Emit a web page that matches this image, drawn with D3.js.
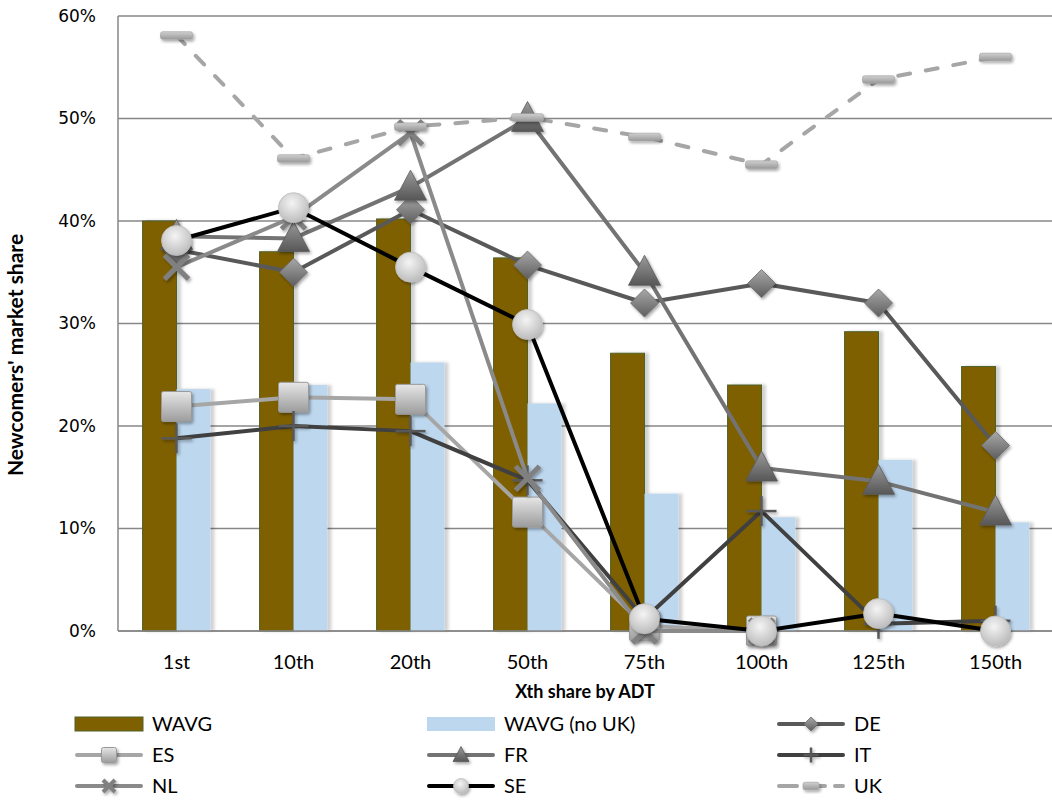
<!DOCTYPE html>
<html>
<head>
<meta charset="utf-8">
<script src="https://cdn.jsdelivr.net/npm/d3@7"></script>
<style>
  html, body { margin: 0; padding: 0; background: #fff; }
  svg { display: block; }
</style>
</head>
<body>
<svg id="chart" width="1052" height="800"></svg>
<script>
// ---------- DATA ----------
const categories = ['1st', '10th', '20th', '50th', '75th', '100th', '125th', '150th'];
const wavg       = [40.0, 37.0, 40.2, 36.4, 27.1, 24.0, 29.2, 25.8];
const wavgNoUK   = [23.6, 24.0, 26.2, 22.2, 13.4, 11.1, 16.7, 10.6];
const de = [37.2, 35.0, 41.1, 35.7, 32.0, 33.9, 32.0, 18.1];
const es = [21.9, 22.8, 22.6, 11.6, 0.5, 0.0, null, null];
const fr = [38.5, 38.3, 43.3, 50.0, 35.0, 15.9, 14.6, 11.6];
const it = [18.8, 20.0, 19.5, 14.7, 1.2, 11.7, 0.7, 1.0];
const nl = [35.5, 40.4, 48.6, 14.9, 0.0, 0.0, null, null];
const se = [38.1, 41.3, 35.5, 29.9, 1.2, 0.0, 1.7, 0.0];
const uk = [58.1, 46.1, 49.2, 50.1, 48.2, 45.5, 53.8, 56.0];
const yTicks = [0, 10, 20, 30, 40, 50, 60];

const barSeries = [
  {name: 'WAVG', values: wavg, fill: '#7f6000', stroke: '#4f6228'},
  {name: 'WAVG (no UK)', values: wavgNoUK, fill: '#bdd7ee', stroke: 'none'}
];
const lineSeries = [
  {name: 'DE', values: de, color: '#595959', marker: 'diamond'},
  {name: 'ES', values: es, color: '#a6a6a6', marker: 'square'},
  {name: 'FR', values: fr, color: '#737373', marker: 'triangle'},
  {name: 'IT', values: it, color: '#404040', marker: 'plus'},
  {name: 'NL', values: nl, color: '#8a8a8a', marker: 'x'},
  {name: 'SE', values: se, color: '#000000', marker: 'circle'},
  {name: 'UK', values: uk, color: '#a6a6a6', marker: 'dash', dashed: true}
];

// ---------- LAYOUT ----------
const svg = d3.select('#chart');
const plot = {left: 118, right: 1054, top: 16, bottom: 631};

const x = d3.scaleBand().domain(categories).range([plot.left, plot.right])
  .paddingInner(0.42).paddingOuter(0.21);
const xSub = d3.scaleBand().domain(barSeries.map(s => s.name)).range([0, x.bandwidth()]);
const y = d3.scaleLinear().domain([0, 60]).range([plot.bottom, plot.top]);
const cx = c => x(c) + x.bandwidth() / 2;

// ---------- DEFS ----------
const defs = svg.append('defs');
const f1 = defs.append('filter').attr('id', 'barShadow').attr('x', '-20%').attr('y', '-5%').attr('width', '150%').attr('height', '110%');
f1.append('feDropShadow').attr('dx', 4).attr('dy', 0).attr('stdDeviation', 1.5)
  .attr('flood-color', '#000').attr('flood-opacity', 0.18);
const f2 = defs.append('filter').attr('id', 'mkShadow').attr('x', '-50%').attr('y', '-50%').attr('width', '200%').attr('height', '200%');
f2.append('feDropShadow').attr('dx', 1.5).attr('dy', 2).attr('stdDeviation', 1.5)
  .attr('flood-color', '#000').attr('flood-opacity', 0.35);

function linGrad(id, c1, c2) {
  const g = defs.append('linearGradient').attr('id', id)
    .attr('x1', 0).attr('y1', 0).attr('x2', 0).attr('y2', 1);
  g.append('stop').attr('offset', '0%').attr('stop-color', c1);
  g.append('stop').attr('offset', '100%').attr('stop-color', c2);
}
linGrad('gDiamond', '#a8a8a8', '#5e5e5e');
linGrad('gSquare', '#e6e6e6', '#9c9c9c');
linGrad('gTri', '#9a9a9a', '#575757');
linGrad('gDash', '#cfcfcf', '#9a9a9a');
const rg = defs.append('radialGradient').attr('id', 'gCircle')
  .attr('cx', '45%').attr('cy', '35%').attr('r', '65%');
rg.append('stop').attr('offset', '0%').attr('stop-color', '#f4f4f4');
rg.append('stop').attr('offset', '100%').attr('stop-color', '#bcbcbc');

// ---------- GRID ----------
svg.append('g').selectAll('line').data(yTicks).join('line')
  .attr('x1', plot.left).attr('x2', 1052)
  .attr('y1', d => y(d)).attr('y2', d => y(d))
  .attr('stroke', '#878787').attr('stroke-width', 1.5);

svg.append('line').attr('x1', plot.left).attr('x2', plot.left)
  .attr('y1', plot.top).attr('y2', plot.bottom)
  .attr('stroke', '#878787').attr('stroke-width', 1.5);

// Y axis labels
const yAxis = d3.axisLeft(y).tickValues(yTicks).tickFormat(d => d + '%').tickSize(0).tickPadding(0);
const yg = svg.append('g').attr('transform', `translate(96,0)`).call(yAxis);
yg.select('.domain').remove();
yg.selectAll('text').attr('font-family', 'DejaVu Sans').attr('font-size', 17).attr('fill', '#000');

// X axis labels
const xAxis = d3.axisBottom(x).tickSize(0).tickPadding(0);
const xg = svg.append('g').attr('transform', `translate(0,655)`).call(xAxis);
xg.select('.domain').remove();
xg.selectAll('text').attr('font-family', 'Lato').attr('font-size', 20).attr('fill', '#000');

// Axis titles
svg.append('text').attr('x', 585).attr('y', 698).attr('text-anchor', 'middle')
  .attr('font-family', 'Lato').attr('font-weight', 'bold').attr('font-size', 18)
  .text('Xth share by ADT');
svg.append('text').attr('transform', 'translate(23,355) rotate(-90)').attr('text-anchor', 'middle')
  .attr('font-family', 'Lato').attr('font-weight', 'bold').attr('font-size', 21)
  .text("Newcomers' market share");

// ---------- BARS ----------
barSeries.forEach(s => {
  svg.append('g').attr('filter', 'url(#barShadow)').selectAll('rect')
    .data(categories.map((c, i) => ({c, v: s.values[i]})))
    .join('rect')
    .attr('x', d => x(d.c) + xSub(s.name))
    .attr('width', xSub.bandwidth())
    .attr('y', d => y(d.v))
    .attr('height', d => y(0) - y(d.v))
    .attr('fill', s.fill)
    .attr('stroke', s.stroke)
    .attr('stroke-width', s.stroke === 'none' ? 0 : 1);
});

// bottom axis line on top of bars
svg.append('line').attr('x1', plot.left).attr('x2', 1052)
  .attr('y1', plot.bottom).attr('y2', plot.bottom)
  .attr('stroke', '#878787').attr('stroke-width', 1.5);

// ---------- MARKERS ----------
function drawMarker(g, type, px, py, k, color) {
  const m = g.append('g').attr('transform', `translate(${px},${py})`).attr('filter', 'url(#mkShadow)');
  if (type === 'diamond') {
    const h = 14 * k;
    m.append('path').attr('d', `M0,${-h}L${h},0L0,${h}L${-h},0Z`)
      .attr('fill', 'url(#gDiamond)').attr('stroke', '#6a6a6a').attr('stroke-width', 0.8);
  } else if (type === 'square') {
    const h = 15 * k;
    m.append('rect').attr('x', -h).attr('y', -h).attr('width', 2 * h).attr('height', 2 * h)
      .attr('rx', 2).attr('fill', 'url(#gSquare)').attr('stroke', '#999').attr('stroke-width', 1);
  } else if (type === 'triangle') {
    const w = 16 * k, t = 17 * k, b = 13 * k;
    m.append('path').attr('d', `M0,${-t}L${w},${b}L${-w},${b}Z`)
      .attr('fill', 'url(#gTri)').attr('stroke', '#5a5a5a').attr('stroke-width', 0.8);
  } else if (type === 'plus') {
    const h = 15 * k;
    m.append('line').attr('x1', -h).attr('x2', h).attr('y1', 0).attr('y2', 0)
      .attr('stroke', '#595959').attr('stroke-width', 2.5);
    m.append('line').attr('x1', 0).attr('x2', 0).attr('y1', -h).attr('y2', h)
      .attr('stroke', '#595959').attr('stroke-width', 2.5);
  } else if (type === 'x') {
    const h = 12 * k;
    m.append('path').attr('d', `M${-h},${-h}L${h},${h}M${h},${-h}L${-h},${h}`)
      .attr('stroke', '#808080').attr('stroke-width', 5 * Math.max(k, 0.8)).attr('fill', 'none');
  } else if (type === 'circle') {
    m.append('circle').attr('r', 15 * k).attr('fill', 'url(#gCircle)')
      .attr('stroke', '#bdbdbd').attr('stroke-width', 0.8);
  } else if (type === 'dash') {
    const w = 16 * k, h = 3.8;
    m.append('rect').attr('x', -w).attr('y', -h).attr('width', 2 * w).attr('height', 2 * h)
      .attr('rx', 2).attr('fill', 'url(#gDash)').attr('stroke', '#a0a0a0').attr('stroke-width', 0.6);
  }
}

// ---------- LINES ----------
const lineGen = d3.line().defined(d => d.v !== null).x(d => cx(d.c)).y(d => y(d.v));
lineSeries.forEach(s => {
  const pts = categories.map((c, i) => ({c, v: s.values[i]}));
  const g = svg.append('g');
  g.append('path').datum(pts).attr('d', lineGen)
    .attr('fill', 'none').attr('stroke', s.color).attr('stroke-width', 4)
    .attr('stroke-linejoin', 'round')
    .attr('stroke-linecap', s.dashed ? 'round' : 'butt')
    .attr('stroke-dasharray', s.dashed ? '12,16' : null);
  pts.filter(d => d.v !== null).forEach(d => drawMarker(g, s.marker, cx(d.c), y(d.v), 1, s.color));
});

// ---------- LEGEND ----------
const legendItems = [
  {name: 'WAVG', kind: 'bar', s: barSeries[0]},
  {name: 'WAVG (no UK)', kind: 'bar', s: barSeries[1]},
  {name: 'DE', kind: 'line', s: lineSeries[0]},
  {name: 'ES', kind: 'line', s: lineSeries[1]},
  {name: 'FR', kind: 'line', s: lineSeries[2]},
  {name: 'IT', kind: 'line', s: lineSeries[3]},
  {name: 'NL', kind: 'line', s: lineSeries[4]},
  {name: 'SE', kind: 'line', s: lineSeries[5]},
  {name: 'UK', kind: 'line', s: lineSeries[6]}
];
const colX = [75, 427, 777];
const rowY = [724, 755, 786];
const lg = svg.append('g');
legendItems.forEach((it, i) => {
  const x0 = colX[i % 3], y0 = rowY[Math.floor(i / 3)];
  const g = lg.append('g');
  if (it.kind === 'bar') {
    g.append('rect').attr('x', x0).attr('y', y0 - 7).attr('width', 68).attr('height', 14)
      .attr('fill', it.s.fill).attr('stroke', it.s.stroke).attr('stroke-width', it.s.stroke === 'none' ? 0 : 1);
  } else {
    g.append('line').attr('x1', x0 + 2).attr('x2', x0 + 66).attr('y1', y0).attr('y2', y0)
      .attr('stroke', it.s.color).attr('stroke-width', 4).attr('stroke-linecap', 'round')
      .attr('stroke-dasharray', it.s.dashed ? '18,10' : null);
    drawMarker(g, it.s.marker, x0 + 34, y0, 0.5, it.s.color);
  }
  g.append('text').attr('x', x0 + 77).attr('y', y0 + 7)
    .attr('font-family', 'Lato').attr('font-size', 20).attr('fill', '#000').text(it.name);
});
</script>
</body>
</html>
